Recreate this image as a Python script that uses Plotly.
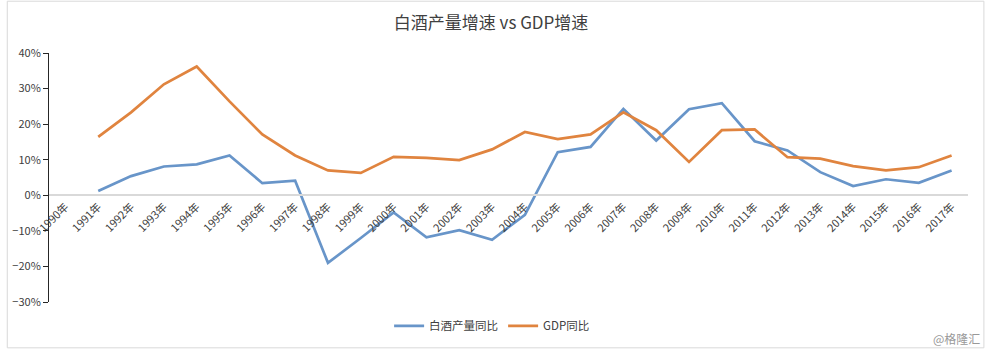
import plotly.graph_objects as go

years = [f"{y}年" for y in range(1990, 2018)]
baijiu = [None, 1.2, 5.4, 8.1, 8.7, 11.2, 3.4, 4.1, -19.0, -12.0, -4.8, -11.8, -9.8, -12.5, -5.5,
          12.1, 13.6, 24.3, 15.4, 24.2, 25.9, 15.2, 12.6, 6.5, 2.6, 4.5, 3.5, 7.0]
gdp = [None, 16.4, 23.3, 31.2, 36.2, 26.4, 17.1, 11.2, 7.0, 6.3, 10.8, 10.5, 9.9, 12.9, 17.8,
       15.8, 17.1, 23.3, 18.3, 9.4, 18.3, 18.5, 10.7, 10.3, 8.2, 7.0, 7.9, 11.2]
baijiu = [None if v is None else v / 100 for v in baijiu]
gdp = [None if v is None else v / 100 for v in gdp]

FONT = "Noto Sans CJK SC, Noto Sans, sans-serif"
BLUE = "#6895c9"
ORANGE = "#e0843f"

fig = go.Figure()
fig.add_trace(go.Scatter(x=years, y=baijiu, mode="lines", name="白酒产量同比",
                         line=dict(color=BLUE, width=2.7)))
fig.add_trace(go.Scatter(x=years, y=gdp, mode="lines", name="GDP同比",
                         line=dict(color=ORANGE, width=2.7)))

ymin, ymax = -0.3, 0.4
fig.update_layout(
    width=988, height=352, autosize=False,
    margin=dict(l=43, r=20, t=53, b=49),
    paper_bgcolor="white", plot_bgcolor="white",
    font=dict(family=FONT, size=11, color="#404040"),
    title=dict(text="白酒产量增速 vs GDP增速", x=0.497, xanchor="center",
               y=0.935, yanchor="middle",
               font=dict(family=FONT, size=17, color="#404040")),
    showlegend=True,
    legend=dict(orientation="h", x=(489 - 43) / 925, xanchor="center",
                y=(303 - 327) / 250, yanchor="middle",
                bgcolor="rgba(0,0,0,0)",
                font=dict(family=FONT, size=11.5, color="#404040"),
                itemwidth=30, tracegroupgap=0),
    xaxis=dict(type="category", range=[-0.5, 27.5], anchor="free",
               position=(0 - ymin) / (ymax - ymin),
               showline=True, linecolor="#d9d9d9", linewidth=1.5,
               ticks="", tickangle=-45, showgrid=False, zeroline=False,
               tickfont=dict(family=FONT, size=11, color="#404040")),
    yaxis=dict(range=[ymin, ymax], dtick=0.1, tickformat=".0%",
               showline=True, linecolor="#262626", linewidth=1,
               ticks="outside", ticklen=5, tickcolor="#262626",
               showgrid=False, zeroline=False,
               tickfont=dict(family=FONT, size=11, color="#404040")),
)

# chart frame
fig.add_shape(type="rect", xref="paper", yref="paper",
              x0=(1 - 43) / 925, x1=(984 - 43) / 925,
              y0=(303 - 349) / 250, y1=(303 - 1) / 250,
              line=dict(color="#d9d9d9", width=1), layer="below")

fig.add_annotation(text="@格隆汇", xref="paper", yref="paper",
                   x=(982 - 43) / 925, y=(303 - 340) / 250,
                   xanchor="right", yanchor="middle", showarrow=False,
                   font=dict(family=FONT, size=12, color="#999999"))

fig.write_html("out.html", config={"responsive": False})
